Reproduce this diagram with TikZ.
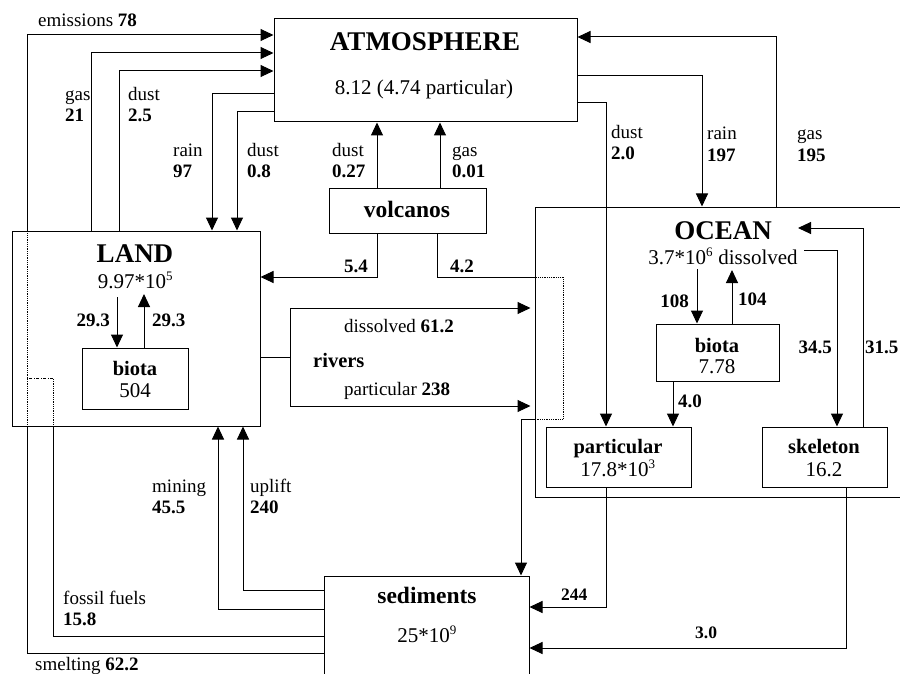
\documentclass[tikz,border=0pt]{standalone}
\usepackage{fontspec}
\setmainfont{Liberation Serif}
\usetikzlibrary{arrows.meta}
\tikzset{
  box/.style={draw,line width=1pt,inner sep=0pt},
  link/.style={line width=1pt},
  flow/.style={line width=1pt,-{Triangle[length=13pt,width=12pt]}},
  thru/.style={line width=.8pt,densely dotted},
  lab/.style={anchor=base west,inner sep=0pt,font=\fontsize{19}{21}\selectfont},
  head/.style={anchor=base,inner sep=0pt,font=\fontsize{27}{30}\selectfont\bfseries},
  sub/.style={anchor=base,inner sep=0pt,font=\fontsize{23.5}{26}\selectfont\bfseries},
  boxname/.style={anchor=base,inner sep=0pt,font=\fontsize{20.5}{23}\selectfont\bfseries},
  val/.style={anchor=base,inner sep=0pt,font=\fontsize{21}{23}\selectfont}
}
\newcommand\pw[1]{\textsuperscript{\fontsize{13}{14}\selectfont#1}}
\begin{document}
\begin{tikzpicture}[x=1pt,y=-1pt]
\useasboundingbox (0,0) rectangle (900,674);
% reservoirs
\node[box,minimum width=303pt,minimum height=103pt] (atm) at (425.5,70.5) {};
\node[box,minimum width=248pt,minimum height=195pt] (land) at (136,328.5) {};
\node[box,minimum width=106pt,minimum height=61pt] (lbiota) at (135,378.5) {};
\node[box,minimum width=157pt,minimum height=44pt] (volc) at (407.5,211) {};
\node[box,minimum width=375pt,minimum height=290pt] (ocean) at (722.5,352) {};
\node[box,minimum width=123pt,minimum height=57pt] (obiota) at (717.5,352.5) {};
\node[box,minimum width=145pt,minimum height=60pt] (part) at (618.5,457) {};
\node[box,minimum width=125pt,minimum height=60pt] (skel) at (824.5,457) {};
\node[box,minimum width=205pt,minimum height=124pt] (sed) at (426.5,638) {};
\node[head] (atmT) at (425,51) {ATMOSPHERE};
\node[val] (atmV) at (424,95) {8.12 (4.74 particular)};
\node[head] (landT) at (135,262) {LAND};
\node[val] (landV) at (135.5,288) {9.97*10\pw{5}};
\node[boxname] (lbiotaT) at (135,375) {biota};
\node[val] (lbiotaV) at (135,397) {504};
\node[sub] (volcT) at (407,218) {volcanos};
\node[head] (oceanT) at (723,239) {OCEAN};
\node[val] (oceanV) at (723,264) {3.7*10\pw{6} dissolved};
\node[boxname] (obiotaT) at (717,352) {biota};
\node[val] (obiotaV) at (717,373) {7.78};
\node[boxname] (partT) at (618,453) {particular};
\node[val] (partV) at (618,476) {17.8*10\pw{3}};
\node[boxname] (skelT) at (824,453) {skeleton};
\node[val] (skelV) at (824,476) {16.2};
\node[sub] (sedT) at (427,603) {sediments};
\node[val] (sedV) at (427,642) {25*10\pw{9}};
% free ends inside the boxes
\coordinate (l293a) at (117,297);
\coordinate (l293b) at (144,294);
\coordinate (o108) at (697,269);
\coordinate (o104) at (732,270);
\coordinate (o345) at (804,250);
\coordinate (o315) at (798,228);
\coordinate (riv) at (290,357);
% land <-> atmosphere
\draw[link] (sed.west |- 0,653) -| (land.south -| 27,0);
\draw[thru] (land.south -| 27,0) -- (land.north -| 27,0);
\draw[flow] (land.north -| 27,0) |- (atm.west |- 0,35);
\draw[flow] (land.north -| 91,0) |- (atm.west |- 0,53);
\draw[flow] (land.north -| 119,0) |- (atm.west |- 0,71);
\draw[flow] (atm.west |- 0,94) -| (land.north -| 212,0);
\draw[flow] (atm.west |- 0,112) -| (land.north -| 237,0);
% volcanos
\draw[flow] (volc.north -| 377,0) -- (atm.south -| 377,0);
\draw[flow] (volc.north -| 440,0) -- (atm.south -| 440,0);
\draw[flow] (volc.south -| 377,0) |- (land.east |- 0,277);
\draw[link] (volc.south -| 437,0) |- (ocean.west |- 0,277);
\draw[thru] (ocean.west |- 0,277) -| (563,419) -- (ocean.west |- 0,419);
\draw[flow] (ocean.west |- 0,419) -| (sed.north -| 521,0);
% rivers
\draw[link] (land.east |- riv) -- (riv);
\draw[flow,shorten >=4pt] (riv) |- (ocean.west |- 0,308);
\draw[flow,shorten >=4pt] (riv) |- (ocean.west |- 0,406);
% atmosphere <-> ocean
\draw[flow] (atm.east |- 0,103) -| (part.north -| 606,0);
\draw[flow] (atm.east |- 0,76) -| (ocean.north -| 702,0);
\draw[flow] (ocean.north -| 776,0) |- (atm.east |- 0,37);
% inside the ocean
\draw[flow] (o108) -- (obiota.north -| o108);
\draw[flow] (obiota.north -| o104) -- (o104);
\draw[flow] (obiota.south -| 673,0) -- (part.north -| 673,0);
\draw[flow] (o345) -| (skel.north -| 837,0);
\draw[flow] (skel.north -| 863,0) |- (o315);
% inside the land
\draw[flow] (l293a) -- (lbiota.north -| l293a);
\draw[flow] (lbiota.north -| l293b) -- (l293b);
% sediments
\draw[flow] (part.south -| 606,0) |- (sed.east |- 0,607);
\draw[flow] (skel.south -| 846,0) |- (sed.east |- 0,648);
\draw[flow] (sed.west |- 0,590) -| (land.south -| 243,0);
\draw[flow] (sed.west |- 0,609) -| (land.south -| 218,0);
\draw[link] (sed.west |- 0,636) -| (land.south -| 53,0);
\draw[thru] (land.south -| 53,0) -- (53,378);
\draw[line width=.8pt,dash pattern=on 3pt off 1.5pt on 1pt off 1.5pt] (53,378) -- (27,378);
% flux labels
\foreach \x/\y/\w/\v [count=\i] in {65/101/gas/21,128/101/dust/2.5,173/157/rain/97,247/157/dust/0.8,
  332/157/dust/0.27,452/157/gas/0.01,611/139/dust/2.0,707/140/rain/197,797/140/gas/195,
  152/492/mining/45.5,250/492/uplift/240,63/604/fossil fuels/15.8} {
  \node[lab] (w\i) at (\x,\y) {\w};
  \node[lab] (v\i) at (\x,\y+21) {\textbf{\v}};}
\node[lab] (emis) at (38,27) {emissions \textbf{78}};
\node[lab] (smelt) at (35,670) {smelting \textbf{62.2}};
\node[lab] (rdis) at (344,332) {dissolved \textbf{61.2}};
\node[lab] (rpar) at (344,395) {particular \textbf{238}};
\node[boxname,anchor=base west] (rivT) at (313,367) {rivers};
\node[lab] (f54) at (344,272) {\textbf{5.4}};
\node[lab] (f42) at (450,272) {\textbf{4.2}};
\node[lab,anchor=base east] (f293a) at (110,326) {\textbf{29.3}};
\node[lab] (f293b) at (152,326) {\textbf{29.3}};
\node[lab,anchor=base east] (f108) at (689,307) {\textbf{108}};
\node[lab] (f104) at (738,305) {\textbf{104}};
\node[lab] (f40) at (678,407) {\textbf{4.0}};
\node[lab,anchor=base east] (f345) at (832,353) {\textbf{34.5}};
\node[lab] (f315) at (865,353) {\textbf{31.5}};
\node[lab,font=\fontsize{17.5}{20}\selectfont] (f244) at (561,600) {\textbf{244}};
\node[lab,font=\fontsize{17.5}{20}\selectfont] (f30) at (695,638) {\textbf{3.0}};
\end{tikzpicture}
\end{document}
